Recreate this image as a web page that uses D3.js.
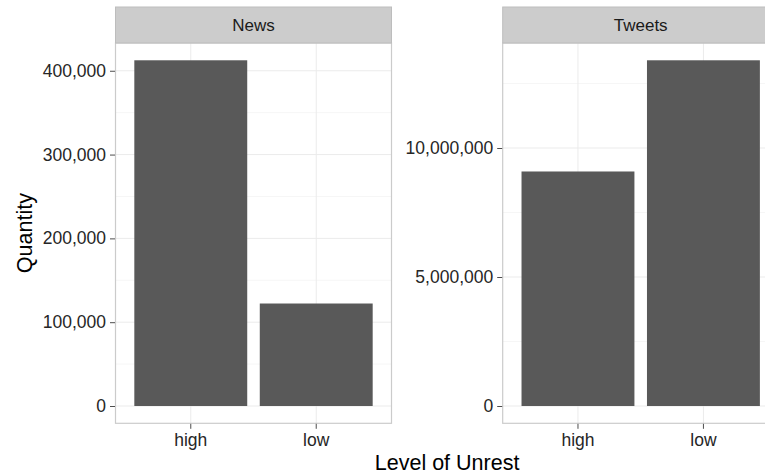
<!DOCTYPE html>
<html>
<head>
<meta charset="utf-8">
<script src="https://cdn.jsdelivr.net/npm/d3@7"></script>
<style>
  html, body { margin: 0; padding: 0; background: #fff; }
  svg { display: block; font-family: "Liberation Sans", Arial, Helvetica, sans-serif; }
</style>
</head>
<body>
<svg id="chart" width="765" height="476"></svg>
<script>
// ---- data ----
const categories = ["high", "low"];
const panels = ["News", "Tweets"];
const newsValues = [412500, 122300];
const tweetsValues = [9090000, 13400000];
const newsTicks = [0, 100000, 200000, 300000, 400000];
const newsMinor = [50000, 150000, 250000, 350000, 450000];
const tweetsTicks = [0, 5000000, 10000000];
const tweetsMinor = [2500000, 7500000, 12500000];
const xTitle = "Level of Unrest";
const yTitle = "Quantity";

const svg = d3.select("#chart");
const W = 765, H = 476;
const panelTop = 43, panelBottom = 423.3;
const stripTop = 7;
const fmt = d3.format(",");

const panelDefs = [
  { name: panels[0], values: newsValues, ticks: newsTicks, minor: newsMinor, x0: 115.5, x1: 391.5 },
  { name: panels[1], values: tweetsValues, ticks: tweetsTicks, minor: tweetsMinor, x0: 502.7, x1: 778.7 }
];

panelDefs.forEach(p => {
  const g = svg.append("g");
  const maxV = d3.max(p.values);
  const y = d3.scaleLinear().domain([-0.05 * maxV, 1.05 * maxV]).range([panelBottom, panelTop]);
  const x = d3.scaleBand().domain(categories).range([p.x0, p.x1]).paddingInner(0.1).paddingOuter(0.15);

  g.append("rect").attr("x", p.x0).attr("y", panelTop).attr("width", p.x1 - p.x0).attr("height", panelBottom - panelTop)
    .attr("fill", "#fff");

  g.selectAll(".minor").data(p.minor.filter(v => y(v) > panelTop && y(v) < panelBottom)).enter().append("line")
    .attr("x1", p.x0).attr("x2", p.x1).attr("y1", d => y(d)).attr("y2", d => y(d))
    .attr("stroke", "#f6f6f6").attr("stroke-width", 1);
  g.selectAll(".major").data(p.ticks).enter().append("line")
    .attr("x1", p.x0).attr("x2", p.x1).attr("y1", d => y(d)).attr("y2", d => y(d))
    .attr("stroke", "#ebebeb").attr("stroke-width", 1);
  g.selectAll(".vmajor").data(categories).enter().append("line")
    .attr("x1", d => x(d) + x.bandwidth() / 2).attr("x2", d => x(d) + x.bandwidth() / 2)
    .attr("y1", panelTop).attr("y2", panelBottom)
    .attr("stroke", "#ebebeb").attr("stroke-width", 1);

  g.selectAll(".bar").data(categories.map((c, i) => ({ c, v: p.values[i] }))).enter().append("rect")
    .attr("x", d => x(d.c)).attr("width", x.bandwidth())
    .attr("y", d => y(d.v)).attr("height", d => y(0) - y(d.v))
    .attr("fill", "#595959");

  g.append("rect").attr("x", p.x0).attr("y", panelTop).attr("width", p.x1 - p.x0).attr("height", panelBottom - panelTop)
    .attr("fill", "none").attr("stroke", "#cbcbcb").attr("stroke-width", 1.2);

  g.append("rect").attr("x", p.x0).attr("y", stripTop).attr("width", p.x1 - p.x0).attr("height", panelTop - stripTop)
    .attr("fill", "#cccccc").attr("stroke", "#bdbdbd").attr("stroke-width", 1);
  g.append("text").attr("x", (p.x0 + p.x1) / 2)
    .attr("y", (stripTop + panelTop) / 2).attr("dy", "0.36em")
    .attr("text-anchor", "middle").attr("font-size", 17).attr("fill", "#1a1a1a").text(p.name);

  const yAxis = d3.axisLeft(y).tickValues(p.ticks).tickFormat(fmt).tickSize(5).tickPadding(4);
  const ya = g.append("g").attr("transform", `translate(${p.x0 - 0.5},0)`).call(yAxis);
  ya.select(".domain").remove();
  ya.selectAll(".tick line").attr("stroke", "#4d4d4d");
  ya.selectAll(".tick text").attr("font-size", 17.5).attr("fill", "#262626").attr("font-family", null);

  const xAxis = d3.axisBottom(x).tickSize(5).tickPadding(5);
  const xa = g.append("g").attr("transform", `translate(0,${panelBottom + 0.5})`).call(xAxis);
  xa.select(".domain").remove();
  xa.selectAll(".tick line").attr("stroke", "#4d4d4d");
  xa.selectAll(".tick text").attr("font-size", 17.5).attr("fill", "#262626").attr("font-family", null);
});

svg.append("text").attr("x", (panelDefs[0].x0 + panelDefs[1].x1) / 2).attr("y", 470)
  .attr("text-anchor", "middle").attr("font-size", 21.5).attr("fill", "#000").text(xTitle);
svg.append("text").attr("transform", `translate(32,${(panelTop + panelBottom) / 2}) rotate(-90)`)
  .attr("text-anchor", "middle").attr("font-size", 21.5).attr("fill", "#000").text(yTitle);
</script>
</body>
</html>
